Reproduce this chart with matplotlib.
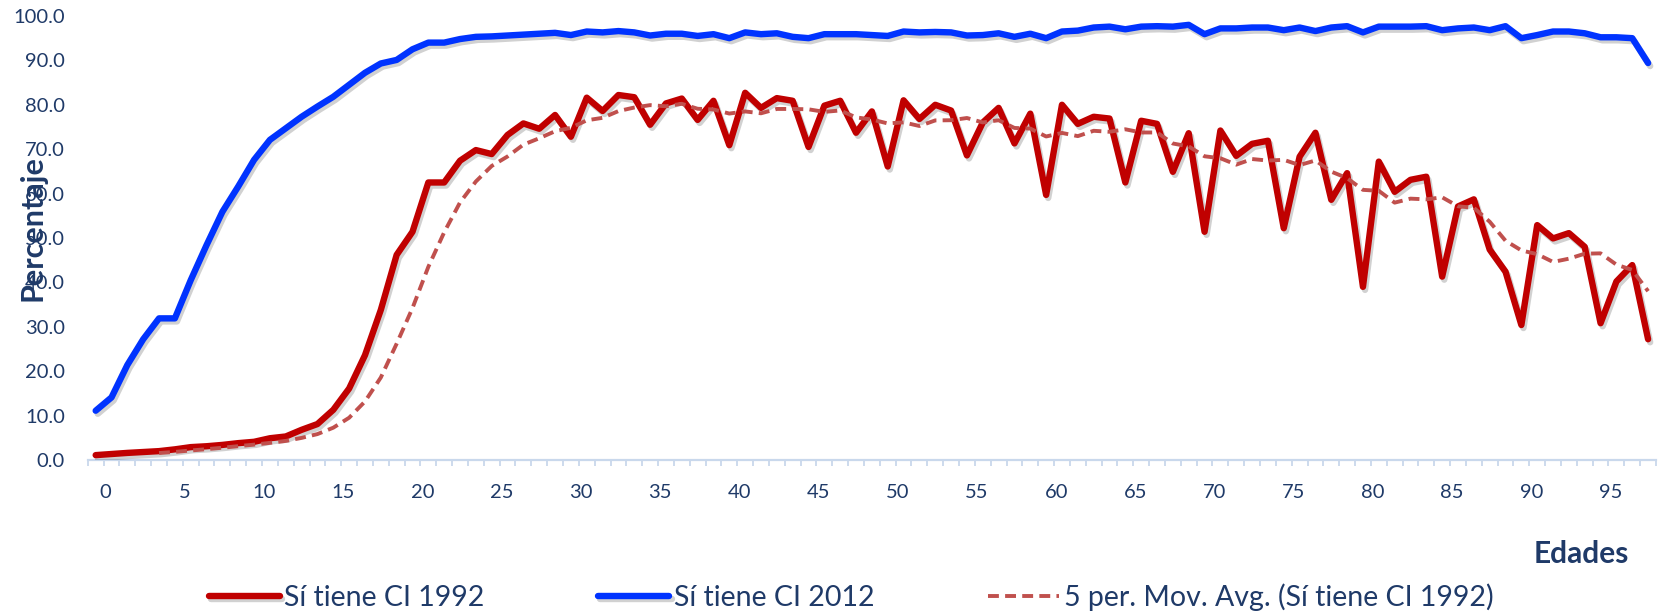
import matplotlib
matplotlib.use("Agg")
import matplotlib.pyplot as plt
import matplotlib.patheffects as pe
import matplotlib.transforms as mtransforms
import numpy as np
import pandas as pd

plt.rcParams['font.family'] = ['Lato', 'DejaVu Sans']

# ---------------- data ----------------
ages = list(range(0, 99))

ci_1992 = [1.1, 1.35, 1.6, 1.8, 2.0, 2.4, 2.9, 3.1, 3.4, 3.8,
           4.1, 4.9, 5.3, 6.8, 8.1, 11.3, 16.1, 23.6, 33.8, 46.2,
           51.4, 62.5, 62.5, 67.4, 69.8, 68.9, 73.2, 75.8, 74.6, 77.7,
           72.8, 81.6, 78.6, 82.2, 81.7, 75.5, 80.3, 81.4, 76.6, 80.9,
           70.9, 82.7, 79.3, 81.5, 80.9, 70.5, 79.8, 80.9, 73.7, 78.5,
           66.1, 81.0, 76.8, 80.0, 78.7, 68.6, 76.0, 79.3, 71.3, 78.0,
           59.7, 80.0, 75.7, 77.3, 76.9, 62.5, 76.4, 75.7, 64.9, 73.6,
           51.4, 74.2, 68.5, 71.2, 71.9, 52.2, 68.3, 73.7, 58.6, 64.6,
           39.0, 67.2, 60.4, 63.1, 63.8, 41.3, 57.1, 58.7, 47.4, 42.4,
           30.4, 52.9, 49.9, 51.1, 48.0, 30.8, 40.2, 43.9, 27.2]

ci_2012 = [11.1, 14.1, 21.4, 27.2, 31.9, 31.9, 40.5, 48.4, 55.9, 61.6,
           67.6, 72.1, 74.7, 77.3, 79.6, 81.8, 84.5, 87.2, 89.3, 90.1,
           92.5, 94.0, 94.0, 94.8, 95.3, 95.4, 95.6, 95.8, 96.0, 96.2,
           95.7, 96.5, 96.3, 96.6, 96.3, 95.6, 96.0, 96.0, 95.5, 95.9,
           95.0, 96.3, 95.9, 96.1, 95.3, 95.0, 95.9, 95.9, 95.9, 95.7,
           95.5, 96.5, 96.3, 96.4, 96.3, 95.6, 95.7, 96.1, 95.3, 96.0,
           95.0, 96.5, 96.7, 97.4, 97.6, 97.0, 97.6, 97.7, 97.6, 98.0,
           95.9, 97.2, 97.2, 97.4, 97.4, 96.8, 97.4, 96.6, 97.4, 97.7,
           96.3, 97.6, 97.6, 97.6, 97.7, 96.8, 97.2, 97.4, 96.8, 97.7,
           95.0, 95.7, 96.5, 96.5, 96.1, 95.2, 95.2, 95.0, 89.4]

x_tick_values = list(range(0, 100, 5))
x_tick_labels = [str(v) for v in x_tick_values]
y_tick_values = [0, 10, 20, 30, 40, 50, 60, 70, 80, 90, 100]

series_labels = ['Sí tiene CI 1992', 'Sí tiene CI 2012',
                 '5 per. Mov. Avg. (Sí tiene CI 1992)']
x_title = 'Edades'
y_title = 'Percentaje'

# ---------------- style ----------------
navy = '#1F3A68'
axis_col = '#C9D8EC'
red = '#C00000'
blue = '#0033FF'
trend = '#C0504D'

fig = plt.figure(figsize=(16.62, 6.14), dpi=100)
ax = fig.add_axes([0.0528, 0.2508, 0.9436, 0.7232])

shadow = [pe.SimpleLineShadow(offset=(1.5, -2.2), shadow_color='black', alpha=0.18),
          pe.Normal()]

l1, = ax.plot(ages, ci_1992, color=red, lw=4.6, solid_joinstyle='round',
              solid_capstyle='round', path_effects=shadow, zorder=3)
l2, = ax.plot(ages, ci_2012, color=blue, lw=4.6, solid_joinstyle='round',
              solid_capstyle='round', path_effects=shadow, zorder=3)
ma = pd.Series(ci_1992).rolling(5).mean()
l3, = ax.plot(ages, ma, color=trend, lw=2.8, linestyle=(0, (2.8, 1.6)),
              zorder=4)

ax.set_xlim(-0.5, 98.5)
ax.set_ylim(0, 100)

ax.set_xticks(x_tick_values)
ax.set_xticklabels(x_tick_labels)
ax.set_xticks(np.arange(-0.5, 99.0, 1.0), minor=True)
ax.set_yticks(y_tick_values)
ax.set_yticklabels([f'{v:.1f}' for v in y_tick_values])

ax.tick_params(axis='x', which='major', length=0, pad=17, labelsize=14.5,
               labelcolor=navy)
ax.tick_params(axis='x', which='minor', length=4.5, width=1.3,
               color=axis_col, direction='out')
ax.tick_params(axis='y', which='major', length=0, pad=16.5, labelsize=14.5,
               labelcolor=navy)

offset = mtransforms.ScaledTranslation(10 / 100, 0, fig.dpi_scale_trans)
for lab in ax.get_xticklabels():
    lab.set_transform(lab.get_transform() + offset)

for s in ['top', 'right', 'left']:
    ax.spines[s].set_visible(False)
ax.spines['bottom'].set_color(axis_col)
ax.spines['bottom'].set_linewidth(1.6)
ax.grid(False)

fig.text(0.0193, 0.628, y_title, rotation=90, ha='center', va='center',
         fontsize=22, fontweight='bold', color=navy)
fig.text(0.980, 0.098, x_title, ha='right', va='center',
         fontsize=21.5, fontweight='bold', color=navy)

fig.legend([l1, l2, l3], series_labels, loc='center',
           bbox_to_anchor=(0.512, 0.028), ncol=3, frameon=False, fontsize=20.5,
           handlelength=2.5, handletextpad=0.15, columnspacing=4.0,
           labelcolor=navy)

fig.savefig('out.png', dpi=100)
